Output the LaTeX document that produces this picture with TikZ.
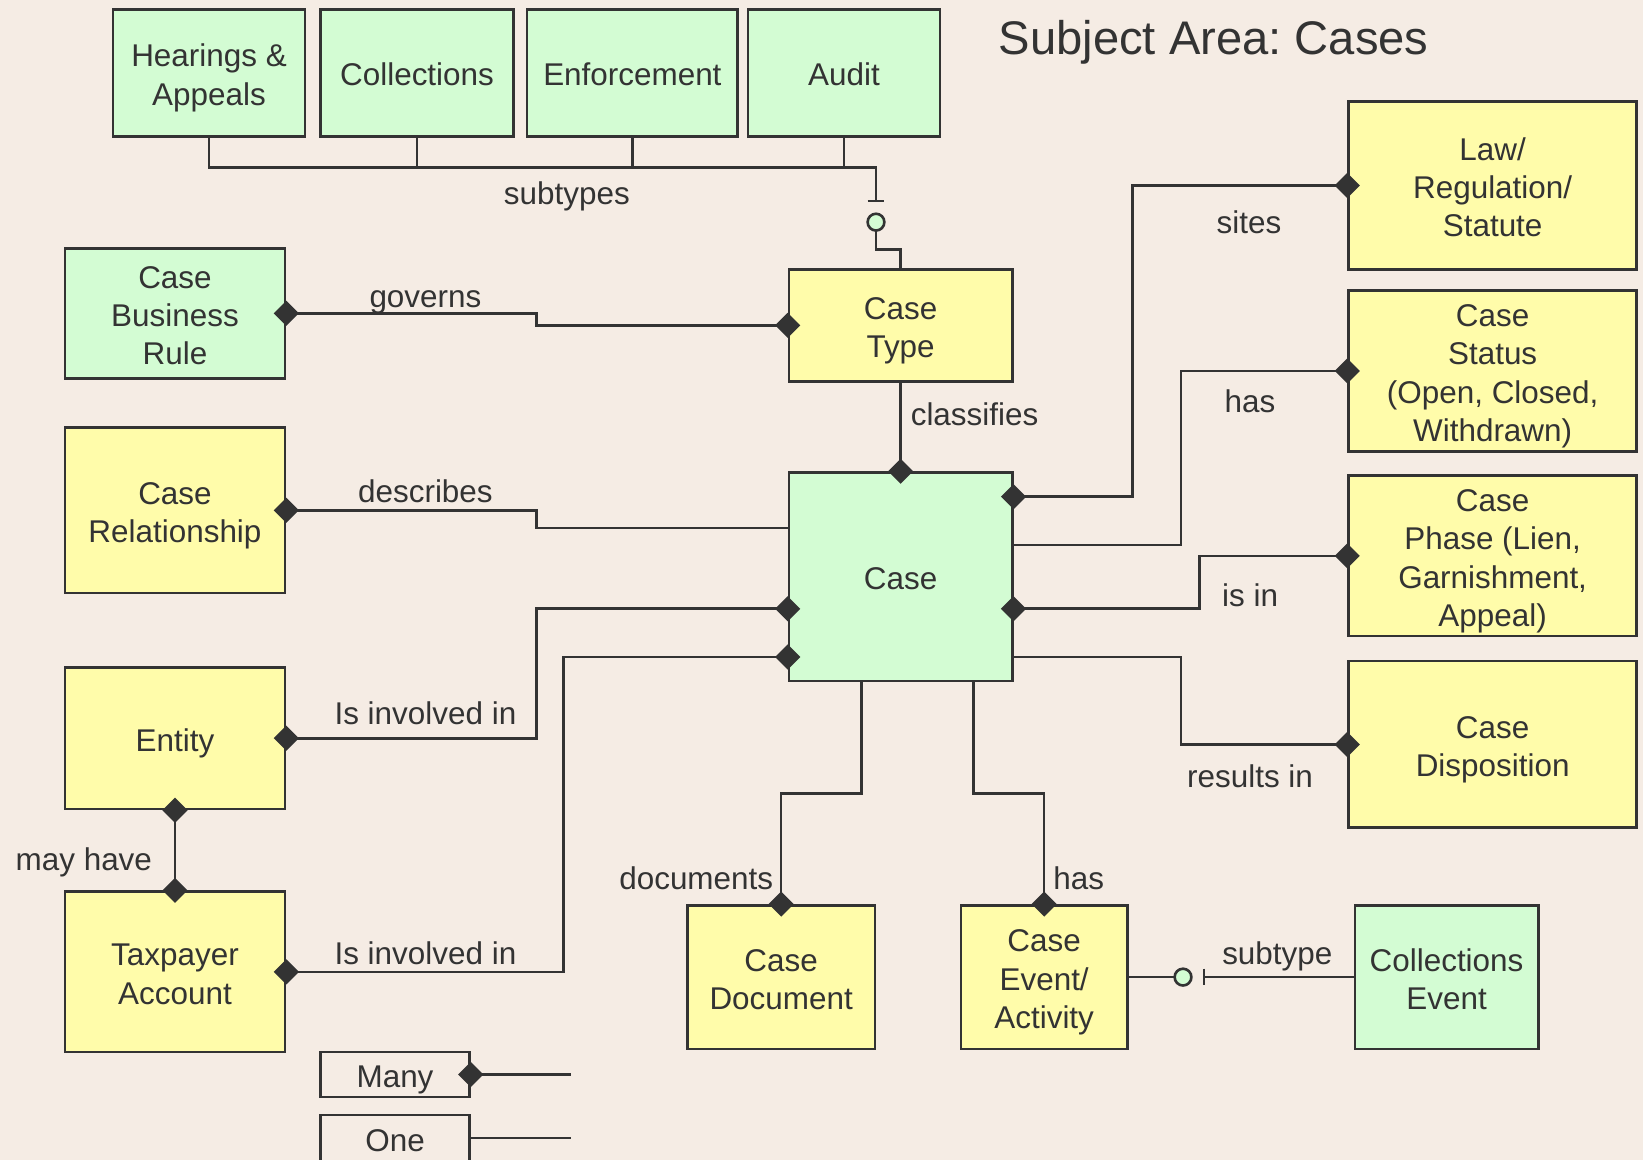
\documentclass[tikz,border=0pt]{standalone}
\usepackage{fontspec}
\setmainfont{Liberation Sans}
\frenchspacing
\definecolor{bg}{HTML}{F5ECE4}
\definecolor{grn}{HTML}{D3FCD3}
\definecolor{yel}{HTML}{FFFCAA}
\definecolor{lc}{HTML}{333333}
\newcommand\efont{\fontsize{30}{36.5}\selectfont}
% box text with fixed first-line height and last-line depth, so lines sit evenly
\newcommand\bx[1]{\rule{0pt}{32pt}#1\rule[-7pt]{0pt}{7pt}}
% filled "many" diamond centred on a port
\newcommand\mdia[1]{\fill[lc] (#1) +(-12,0) -- +(0,-12) -- +(12,0) -- +(0,12) -- cycle;}
\tikzset{
  ent/.style={draw=lc, line width=2.5pt, inner sep=0pt, align=center, font=\efont, text=lc},
  ybox/.style={ent, fill=yel},
  gbox/.style={ent, fill=grn},
  lgbox/.style={ent, fill=bg},
  conn/.style={draw=lc, line width=2.5pt},
  lbl/.style={font=\efont, text=lc, inner sep=0pt, anchor=base},
}
\begin{document}
\begin{tikzpicture}[x=1pt, y=-1pt]
\fill[bg] (0,0) rectangle (1568,1107);
\useasboundingbox (0,0) rectangle (1568,1107);

% subtypes of Case Type
\node[gbox, minimum width=183, minimum height=121] (hear)  at (199.5,69.5) {\bx{Hearings \&\\Appeals}};
\node[gbox, minimum width=184, minimum height=121] (coll)  at (398,69.5) {\bx{Collections}};
\node[gbox, minimum width=201, minimum height=121] (enf)   at (603.5,69.5) {\bx{Enforcement}};
\node[gbox, minimum width=183, minimum height=121] (audit) at (805.5,69.5) {\bx{Audit}};

\node[font=\fontsize{45}{54}\selectfont, text=lc, inner sep=0pt, anchor=base west] (title) at (953,52) {Subject Area: Cases};

% left column
\node[gbox, minimum width=210, minimum height=124] (cbr)    at (167,299) {\bx{Case\\Business\\Rule}};
\node[ybox, minimum width=210, minimum height=158] (crel)   at (167,487) {\bx{Case\\Relationship}};
\node[ybox, minimum width=210, minimum height=135] (entity) at (167,704.5) {\bx{Entity}};
\node[ybox, minimum width=210, minimum height=153] (tpa)    at (167,927.5) {\bx{Taxpayer\\Account}};

% centre
\node[ybox, minimum width=213, minimum height=107] (ctype) at (859.5,310.5) {\bx{Case\\Type}};
\node[gbox, minimum width=213, minimum height=199] (case)  at (859.5,550.5) {\bx{Case}};

% right column
\node[ybox, minimum width=275, minimum height=160] (law)    at (1424.5,177) {\bx{Law/\\Regulation/\\Statute}};
\node[ybox, minimum width=275, minimum height=154] (status) at (1424.5,354) {\bx{Case\\Status\\(Open, Closed,\\Withdrawn)}};
\node[ybox, minimum width=275, minimum height=153] (phase)  at (1424.5,530.5) {\bx{Case\\Phase (Lien,\\Garnishment,\\Appeal)}};
\node[ybox, minimum width=275, minimum height=159] (disp)   at (1424.5,710.5) {\bx{Case\\Disposition}};

% bottom row
\node[ybox, minimum width=179, minimum height=137] (cdoc)  at (745.5,932.5) {\bx{Case\\Document}};
\node[ybox, minimum width=159, minimum height=137] (cevt)  at (996.5,932.5) {\bx{Case\\Event/\\Activity}};
\node[gbox, minimum width=175, minimum height=137] (colev) at (1380.5,932.5) {\bx{Collections\\Event}};

% legend
\node[lgbox, minimum width=142, minimum height=43] (many) at (377,1025.5) {\bx{Many}};
\node[lgbox, minimum width=142, minimum height=44] (one)  at (377,1086) {\bx{One}};
\coordinate (manyend) at (545,1025.5);
\coordinate (oneend) at (545,1086);

% subtype bus to Case Type
\coordinate (bus) at (836,160);
\coordinate (bar) at (836,192);
\coordinate (optc) at (836,212);
\draw[conn] (hear.south) |- (bus) -- (bar);
\draw[conn] (coll.south) -- (coll.south |- bus);
\draw[conn] (enf.south) -- (enf.south |- bus);
\draw[conn] (audit.south) -- (audit.south |- bus);
\draw[conn] (bar) ++(-8,0) -- ++(16,0);
\draw[conn] (optc) ++(0,8) -- (836,238) -| (ctype.north);
\draw[lc, line width=2.5pt, fill=grn] (optc) circle (8);
\node[lbl] (lsubtypes) at (541,195) {subtypes};

% connectors on the left
\draw[conn] (cbr.east) -- (cbr.east -| 512,0) |- (ctype.west);
\node[lbl] (lgoverns) at (406,293) {governs};
\draw[conn] (crel.east) -- (crel.east -| 512,0) |- (case.west |- 0,504);
\node[lbl] (ldescribes) at (406,480) {describes};
\draw[conn] (entity.east) -- (entity.east -| 512,0) |- (case.west |- 0,581);
\node[lbl] (linv1) at (406,691) {Is involved in};
\draw[conn] (tpa.east) -- (tpa.east -| 538,0) |- (case.west |- 0,627);
\node[lbl] (linv2) at (406,920) {Is involved in};
\draw[conn] (entity.south) -- (tpa.north);
\node[lbl] (lmay) at (80,831) {may have};

% Case Type classifies Case
\draw[conn] (ctype.south) -- (case.north);
\node[lbl, anchor=base west] (lclass) at (869,406) {classifies};

% connectors on the right
\draw[conn] (case.east |- 0,474) -- (1081,474) |- (law.west);
\node[lbl] (lsites) at (1192,223) {sites};
\draw[conn] (case.east |- 0,520) -- (1127,520) |- (status.west);
\node[lbl] (lhas1) at (1193,394) {has};
\draw[conn] (case.east |- 0,581) -- (1145,581) |- (phase.west);
\node[lbl] (lisin) at (1193,579) {is in};
\draw[conn] (case.east |- 0,627) -- (1127,627) |- (disp.west);
\node[lbl] (lresults) at (1193,752) {results in};

% connectors below Case
\draw[conn] (case.south -| 822,0) -- (822,757) -| (cdoc.north);
\node[lbl, anchor=base east] (ldocs) at (738,849) {documents};
\draw[conn] (case.south -| 929,0) -- (929,757) -| (cevt.north);
\node[lbl, anchor=base west] (lhas2) at (1005,849) {has};

% Case Event subtype
\coordinate (optc2) at (1129,932.5);
\coordinate (bar2) at (1149,932.5);
\draw[conn] (cevt.east) -- (optc2);
\draw[conn] (bar2) -- (colev.west);
\draw[conn] (bar2) ++(0,-8) -- ++(0,16);
\draw[lc, line width=2.5pt, fill=grn] (optc2) circle (8);
\node[lbl] (lsubtype) at (1219,920) {subtype};

% legend lines
\draw[conn] (many.east) -- (manyend);
\draw[conn] (one.east |- oneend) -- (oneend);

% "many" ends
\mdia{ctype.west}
\mdia{cbr.east}
\mdia{crel.east}
\mdia{entity.east}
\mdia{case.west |- 0,581}
\mdia{tpa.east}
\mdia{case.west |- 0,627}
\mdia{entity.south}
\mdia{tpa.north}
\mdia{case.north}
\mdia{case.east |- 0,474}
\mdia{law.west}
\mdia{status.west}
\mdia{case.east |- 0,581}
\mdia{phase.west}
\mdia{disp.west}
\mdia{cdoc.north}
\mdia{cevt.north}
\mdia{many.east}
\end{tikzpicture}
\end{document}
